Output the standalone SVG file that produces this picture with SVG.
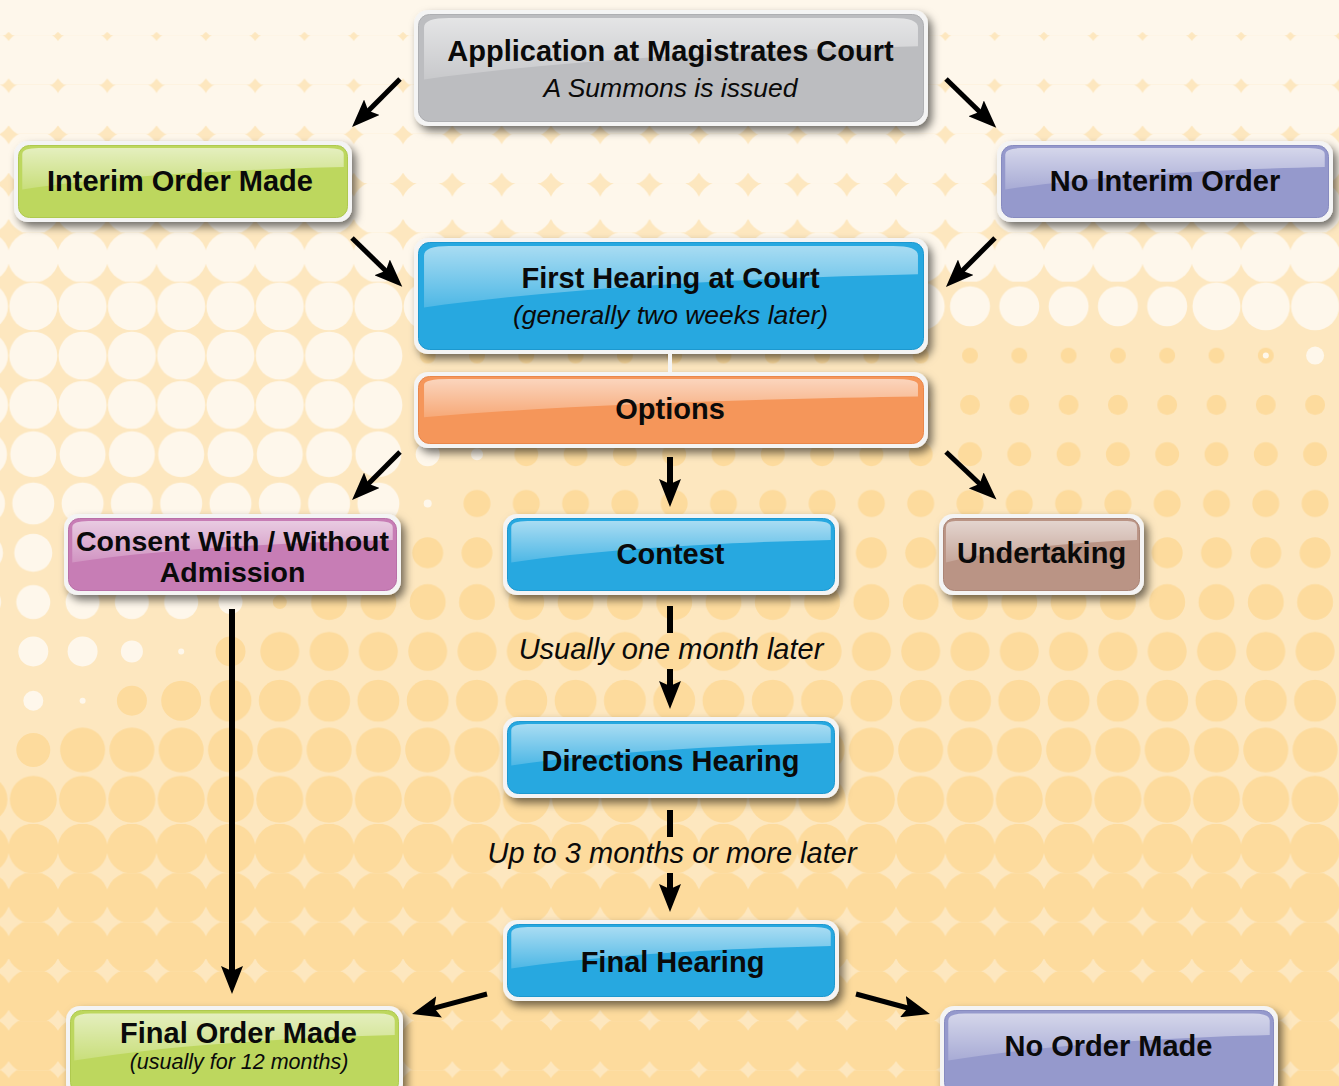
<svg xmlns="http://www.w3.org/2000/svg" width="1339" height="1086" viewBox="0 0 1339 1086">
<defs>
<style>
.t{font-family:"Liberation Sans",Arial,sans-serif;font-weight:bold;font-size:29px;fill:#0a0a0a;text-anchor:middle}
.i{font-style:italic;font-weight:normal}
.frame{fill:#f4f4f4;filter:url(#sh)}
.grey{fill:#bcbdc0;stroke:#aeafb2;stroke-width:1}
.green{fill:#bdd75e;stroke:#afc94f;stroke-width:1}
.purple{fill:#9599cc;stroke:#878bc0;stroke-width:1}
.blue{fill:#27a8e0;stroke:#1d98cf;stroke-width:1}
.orange{fill:#f5965a;stroke:#e9874b;stroke-width:1}
.pink{fill:#c77db5;stroke:#b96fa7;stroke-width:1}
.brown{fill:#ba9485;stroke:#ab8576;stroke-width:1}
.ln{stroke:#000;stroke-width:5;fill:none}
.lv{stroke:#000;stroke-width:6;fill:none}
.ar{marker-end:url(#ah)}
.cr{fill:#fef7eb}
.or{fill:#fddb9d}
</style>
<filter id="sh" x="-10%" y="-20%" width="125%" height="150%">
<feDropShadow dx="4" dy="5" stdDeviation="4" flood-color="#000" flood-opacity="0.55"/>
</filter>
<linearGradient id="gl" x1="0" y1="0" x2="0" y2="1">
<stop offset="0" stop-color="#fff" stop-opacity="0.6"/>
<stop offset="1" stop-color="#fff" stop-opacity="0.18"/>
</linearGradient>
<symbol id="gloss" viewBox="0 0 100 100" preserveAspectRatio="none">
<path d="M1,12 Q1,3 6,3 L94,3 Q99,3 99,12 L99,30 C70,33 30,42 1,62 Z" fill="url(#gl)"/>
</symbol>
<marker id="ah" viewBox="0 0 28 22" refX="7" refY="11" markerWidth="28" markerHeight="22" markerUnits="userSpaceOnUse" orient="auto">
<path d="M0,0 L28,11 L0,22 L5,11 Z" fill="#000"/>
</marker>
<pattern id="pc0" patternUnits="userSpaceOnUse" x="8.65" y="-14.15" width="49.3" height="49.3"><circle cx="24.65" cy="24.65" r="32.5" class="cr"/></pattern>
<pattern id="pc1" patternUnits="userSpaceOnUse" x="8.65" y="-14.15" width="49.3" height="49.3"><circle cx="24.65" cy="24.65" r="31" class="cr"/></pattern>
<pattern id="pc2" patternUnits="userSpaceOnUse" x="8.65" y="-14.15" width="49.3" height="49.3"><circle cx="24.65" cy="24.65" r="29.5" class="cr"/></pattern>
<pattern id="pc3" patternUnits="userSpaceOnUse" x="8.65" y="-14.15" width="49.3" height="49.3"><circle cx="24.65" cy="24.65" r="28.5" class="cr"/></pattern>
<pattern id="pc4" patternUnits="userSpaceOnUse" x="8.65" y="-14.15" width="49.3" height="49.3"><circle cx="24.65" cy="24.65" r="27" class="cr"/></pattern>
<pattern id="pc5" patternUnits="userSpaceOnUse" x="8.65" y="-14.15" width="49.3" height="49.3"><circle cx="24.65" cy="24.65" r="25.5" class="cr"/></pattern>
<pattern id="pc24" patternUnits="userSpaceOnUse" x="8.65" y="-14.15" width="49.3" height="49.3"><circle cx="24.65" cy="24.65" r="24" class="cr"/></pattern>
<pattern id="pc20" patternUnits="userSpaceOnUse" x="8.65" y="-14.15" width="49.3" height="49.3"><circle cx="24.65" cy="24.65" r="20" class="cr"/></pattern>
<pattern id="pc23" patternUnits="userSpaceOnUse" x="8.65" y="-14.15" width="49.3" height="49.3"><circle cx="24.65" cy="24.65" r="23" class="cr"/></pattern>
<pattern id="pc21" patternUnits="userSpaceOnUse" x="8.65" y="-14.15" width="49.3" height="49.3"><circle cx="24.65" cy="24.65" r="21" class="cr"/></pattern>
<pattern id="pc19" patternUnits="userSpaceOnUse" x="8.65" y="-14.15" width="49.3" height="49.3"><circle cx="24.65" cy="24.65" r="19" class="cr"/></pattern>
<pattern id="pc17" patternUnits="userSpaceOnUse" x="8.65" y="-14.15" width="49.3" height="49.3"><circle cx="24.65" cy="24.65" r="17" class="cr"/></pattern>
<pattern id="po7" patternUnits="userSpaceOnUse" x="8.65" y="-14.15" width="49.3" height="49.3"><circle cx="24.65" cy="24.65" r="8" class="or"/></pattern>
<pattern id="po8" patternUnits="userSpaceOnUse" x="8.65" y="-14.15" width="49.3" height="49.3"><circle cx="24.65" cy="24.65" r="10" class="or"/></pattern>
<pattern id="po9" patternUnits="userSpaceOnUse" x="8.65" y="-14.15" width="49.3" height="49.3"><circle cx="24.65" cy="24.65" r="12" class="or"/></pattern>
<pattern id="po10" patternUnits="userSpaceOnUse" x="8.65" y="-14.15" width="49.3" height="49.3"><circle cx="24.65" cy="24.65" r="13.5" class="or"/></pattern>
<pattern id="po11" patternUnits="userSpaceOnUse" x="8.65" y="-14.15" width="49.3" height="49.3"><circle cx="24.65" cy="24.65" r="15.5" class="or"/></pattern>
<pattern id="po12" patternUnits="userSpaceOnUse" x="8.65" y="-14.15" width="49.3" height="49.3"><circle cx="24.65" cy="24.65" r="18" class="or"/></pattern>
<pattern id="po13" patternUnits="userSpaceOnUse" x="8.65" y="-14.15" width="49.3" height="49.3"><circle cx="24.65" cy="24.65" r="19.5" class="or"/></pattern>
<pattern id="po14" patternUnits="userSpaceOnUse" x="8.65" y="-14.15" width="49.3" height="49.3"><circle cx="24.65" cy="24.65" r="21" class="or"/></pattern>
<pattern id="po15" patternUnits="userSpaceOnUse" x="8.65" y="-14.15" width="49.3" height="49.3"><circle cx="24.65" cy="24.65" r="22.5" class="or"/></pattern>
<pattern id="po16" patternUnits="userSpaceOnUse" x="8.65" y="-14.15" width="49.3" height="49.3"><circle cx="24.65" cy="24.65" r="23.5" class="or"/></pattern>
<pattern id="po17" patternUnits="userSpaceOnUse" x="8.65" y="-14.15" width="49.3" height="49.3"><circle cx="24.65" cy="24.65" r="25" class="or"/></pattern>
<pattern id="po18" patternUnits="userSpaceOnUse" x="8.65" y="-14.15" width="49.3" height="49.3"><circle cx="24.65" cy="24.65" r="26" class="or"/></pattern>
<pattern id="po19" patternUnits="userSpaceOnUse" x="8.65" y="-14.15" width="49.3" height="49.3"><circle cx="24.65" cy="24.65" r="27" class="or"/></pattern>
<pattern id="po20" patternUnits="userSpaceOnUse" x="8.65" y="-14.15" width="49.3" height="49.3"><circle cx="24.65" cy="24.65" r="28" class="or"/></pattern>
<pattern id="po21" patternUnits="userSpaceOnUse" x="8.65" y="-14.15" width="49.3" height="49.3"><circle cx="24.65" cy="24.65" r="29" class="or"/></pattern>
<pattern id="po22" patternUnits="userSpaceOnUse" x="8.65" y="-14.15" width="49.3" height="49.3"><circle cx="24.65" cy="24.65" r="30" class="or"/></pattern>
</defs>

<g id="background">
<rect x="0" y="0" width="1339" height="1086" fill="#fde7bf"/>
<rect x="0" y="0" width="1339" height="35.15" fill="url(#pc0)"/>
<rect x="0" y="35.15" width="1339" height="49.3" fill="url(#pc1)"/>
<rect x="0" y="84.45" width="1339" height="49.3" fill="url(#pc2)"/>
<rect x="0" y="133.75" width="1339" height="49.3" fill="url(#pc3)"/>
<rect x="0" y="183.05" width="1339" height="49.3" fill="url(#pc4)"/>
<rect x="0" y="232.35" width="1339" height="49.3" fill="url(#pc5)"/>
<rect x="0" y="281.65" width="945.35" height="49.3" fill="url(#pc24)"/>
<rect x="945.35" y="281.65" width="246.5" height="49.3" fill="url(#pc20)"/>
<rect x="1191.85" y="281.65" width="147.15" height="49.3" fill="url(#pc24)"/>
<rect x="0" y="330.95" width="403.05" height="49.3" fill="url(#pc24)"/>
<rect x="403.05" y="330.95" width="935.95" height="49.3" fill="url(#po7)"/>
<circle cx="1265.8" cy="355.6" r="3" class="cr"/>
<circle cx="1315.1" cy="355.6" r="9" class="cr"/>
<rect x="0" y="380.25" width="403.05" height="49.3" fill="url(#pc24)"/>
<rect x="403.05" y="380.25" width="935.95" height="49.3" fill="url(#po8)"/>
<rect x="0" y="429.55" width="403.05" height="49.3" fill="url(#pc23)"/>
<circle cx="427.7" cy="454.2" r="12" class="cr"/>
<circle cx="477" cy="454.2" r="6" class="cr"/>
<rect x="501.65" y="429.55" width="837.35" height="49.3" fill="url(#po9)"/>
<rect x="0" y="478.85" width="403.05" height="49.3" fill="url(#pc21)"/>
<circle cx="427.7" cy="503.5" r="4" class="cr"/>
<rect x="452.35" y="478.85" width="886.65" height="49.3" fill="url(#po10)"/>
<rect x="0" y="528.15" width="403.05" height="49.3" fill="url(#pc19)"/>
<rect x="403.05" y="528.15" width="935.95" height="49.3" fill="url(#po11)"/>
<rect x="0" y="577.45" width="205.85" height="49.3" fill="url(#pc17)"/>
<circle cx="230.5" cy="602.1" r="12" class="cr"/>
<circle cx="279.8" cy="602.1" r="7" class="or"/>
<rect x="304.45" y="577.45" width="1034.55" height="49.3" fill="url(#po12)"/>
<circle cx="33.3" cy="651.4" r="15" class="cr"/>
<circle cx="82.6" cy="651.4" r="15" class="cr"/>
<circle cx="131.9" cy="651.4" r="11" class="cr"/>
<circle cx="181.2" cy="651.4" r="3" class="cr"/>
<circle cx="230.5" cy="651.4" r="15" class="or"/>
<rect x="255.15" y="626.75" width="1083.85" height="49.3" fill="url(#po13)"/>
<circle cx="33.3" cy="700.7" r="10" class="cr"/>
<circle cx="82.6" cy="700.7" r="3" class="cr"/>
<circle cx="131.9" cy="700.7" r="15" class="or"/>
<circle cx="181.2" cy="700.7" r="20" class="or"/>
<rect x="205.85" y="676.05" width="1133.15" height="49.3" fill="url(#po14)"/>
<circle cx="33.3" cy="750" r="17" class="or"/>
<rect x="57.95" y="725.35" width="1281.05" height="49.3" fill="url(#po15)"/>
<rect x="0" y="774.65" width="1339" height="49.3" fill="url(#po16)"/>
<rect x="0" y="823.95" width="1339" height="49.3" fill="url(#po17)"/>
<rect x="0" y="873.25" width="1339" height="49.3" fill="url(#po18)"/>
<rect x="0" y="922.55" width="1339" height="49.3" fill="url(#po19)"/>
<rect x="0" y="971.85" width="1339" height="49.3" fill="url(#po20)"/>
<rect x="0" y="1021.15" width="1339" height="49.3" fill="url(#po21)"/>
<rect x="0" y="1070.45" width="1339" height="49.3" fill="url(#po22)"/>
</g>

<g id="n-application">
<rect class="frame" x="414" y="10" width="514" height="116" rx="14"/>
<rect class="grey" x="418.5" y="14.5" width="505" height="107" rx="11"/>
<use href="#gloss" x="419" y="15" width="504" height="104"/>
<text class="t" x="670.5" y="61">Application at Magistrates Court</text>
<text class="t i" x="670.5" y="97" style="font-size:26.5px">A Summons is issued</text>
</g>

<g id="n-interim">
<rect class="frame" x="14" y="141" width="338" height="81" rx="14"/>
<rect class="green" x="18.5" y="145.5" width="329" height="72" rx="11"/>
<use href="#gloss" x="19" y="146" width="328" height="70"/>
<text class="t" x="180" y="191">Interim Order Made</text>
</g>

<g id="n-nointerim">
<rect class="frame" x="997" y="141" width="336" height="81" rx="14"/>
<rect class="purple" x="1001.5" y="145.5" width="327" height="72" rx="11"/>
<use href="#gloss" x="1002" y="146" width="326" height="70"/>
<text class="t" x="1165" y="191">No Interim Order</text>
</g>

<g id="n-firsthearing">
<rect class="frame" x="414" y="238" width="514" height="116" rx="14"/>
<rect class="blue" x="418.5" y="242.5" width="505" height="107" rx="11"/>
<use href="#gloss" x="419" y="243" width="504" height="104"/>
<text class="t" x="670.5" y="288">First Hearing at Court</text>
<text class="t i" x="670.5" y="324" style="font-size:26.5px">(generally two weeks later)</text>
</g>

<g id="n-options">
<rect class="frame" x="414" y="372" width="514" height="76" rx="14"/>
<rect class="orange" x="418.5" y="376.5" width="505" height="67" rx="11"/>
<use href="#gloss" x="419" y="377" width="504" height="65"/>
<text class="t" x="670" y="419">Options</text>
</g>

<g id="n-consent">
<rect class="frame" x="64" y="514" width="337" height="81" rx="14"/>
<rect class="pink" x="68.5" y="518.5" width="328" height="72" rx="11"/>
<use href="#gloss" x="69" y="519" width="327" height="70"/>
<text class="t" x="232.5" y="551" style="font-size:28.5px">Consent With / Without</text>
<text class="t" x="232.5" y="582" style="font-size:28.5px">Admission</text>
</g>

<g id="n-contest">
<rect class="frame" x="503" y="514" width="336" height="81" rx="14"/>
<rect class="blue" x="507.5" y="518.5" width="327" height="72" rx="11"/>
<use href="#gloss" x="508" y="519" width="326" height="70"/>
<text class="t" x="670.5" y="564">Contest</text>
</g>

<g id="n-undertaking">
<rect class="frame" x="939" y="514" width="205" height="81" rx="14"/>
<rect class="brown" x="943.5" y="518.5" width="196" height="72" rx="11"/>
<use href="#gloss" x="944" y="519" width="195" height="70"/>
<text class="t" x="1041.5" y="563">Undertaking</text>
</g>

<g id="n-directions">
<rect class="frame" x="503" y="717" width="336" height="81" rx="14"/>
<rect class="blue" x="507.5" y="721.5" width="327" height="72" rx="11"/>
<use href="#gloss" x="508" y="722" width="326" height="70"/>
<text class="t" x="670.5" y="771">Directions Hearing</text>
</g>

<g id="n-finalhearing">
<rect class="frame" x="503" y="920" width="336" height="81" rx="14"/>
<rect class="blue" x="507.5" y="924.5" width="327" height="72" rx="11"/>
<use href="#gloss" x="508" y="925" width="326" height="70"/>
<text class="t" x="672.5" y="972">Final Hearing</text>
</g>

<g id="n-finalorder">
<rect class="frame" x="66" y="1006" width="337" height="92" rx="14"/>
<rect class="green" x="70.5" y="1010.5" width="328" height="83" rx="11"/>
<use href="#gloss" x="71" y="1011" width="327" height="80"/>
<text class="t" x="238.5" y="1043">Final Order Made</text>
<text class="t i" x="239" y="1069" style="font-size:21.5px">(usually for 12 months)</text>
</g>

<g id="n-noorder">
<rect class="frame" x="940" y="1006" width="338" height="92" rx="14"/>
<rect class="purple" x="944.5" y="1010.5" width="329" height="83" rx="11"/>
<use href="#gloss" x="945" y="1011" width="328" height="80"/>
<text class="t" x="1108.5" y="1056">No Order Made</text>
</g>

<g id="connectors">
<line x1="670" y1="353" x2="670" y2="373" stroke="#f4f4f4" stroke-width="4"/>
<line class="ln ar" x1="400" y1="79" x2="366.9" y2="112.2"/>
<line class="ln ar" x1="946" y1="79" x2="981.2" y2="113.2"/>
<line class="ln ar" x1="352" y1="238" x2="387.2" y2="272.2"/>
<line class="ln ar" x1="995" y1="238" x2="960.8" y2="272.2"/>
<line class="ln ar" x1="400" y1="452" x2="366.9" y2="485.2"/>
<line class="lv ar" x1="670" y1="457" x2="670" y2="486"/>
<line class="ln ar" x1="946" y1="452" x2="981.2" y2="485.2"/>
<line class="lv" x1="670" y1="606" x2="670" y2="633"/>
<line class="lv ar" x1="670" y1="669" x2="670" y2="688"/>
<line class="lv" x1="670" y1="810" x2="670" y2="837"/>
<line class="lv ar" x1="670" y1="873" x2="670" y2="891"/>
<line class="lv ar" x1="232" y1="609" x2="232" y2="973"/>
<line class="ln ar" x1="487" y1="994" x2="432.3" y2="1008.6"/>
<line class="ln ar" x1="856" y1="994" x2="909.7" y2="1008.5"/>
<text class="t i" x="671" y="659">Usually one month later</text>
<text class="t i" x="672" y="863">Up to 3 months or more later</text>
</g>
</svg>
